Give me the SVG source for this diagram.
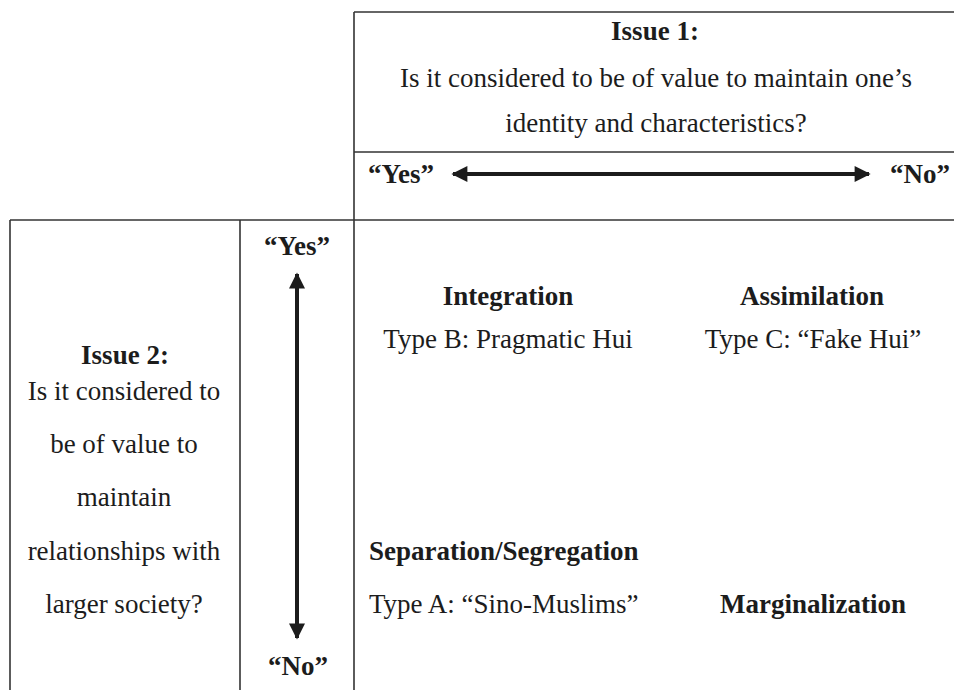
<svg xmlns="http://www.w3.org/2000/svg" width="954" height="690" viewBox="0 0 954 690">
  <style>
    .t { font-family: "Liberation Serif", "Times New Roman", serif; font-size: 27px; fill: #1c1c1c; }
    .b { font-weight: bold; }
    .c { text-anchor: middle; }
    .frame { stroke: #333; stroke-width: 1.6; fill: none; }
    .arr { stroke: #1c1c1c; stroke-width: 4; fill: none; }
  </style>
  <defs>
    <marker id="head" viewBox="0 0 10 10" refX="9" refY="5" markerWidth="5" markerHeight="4" orient="auto-start-reverse" markerUnits="strokeWidth">
      <path d="M0,0 L10,5 L0,10 Z" fill="#1c1c1c"/>
    </marker>
  </defs>
  <rect width="954" height="690" fill="#ffffff"/>

  <g id="frame">
    <line class="frame" x1="354" y1="12" x2="954" y2="12"/>
    <line class="frame" x1="354" y1="12" x2="354" y2="690"/>
    <line class="frame" x1="354" y1="152" x2="954" y2="152"/>
    <line class="frame" x1="10" y1="220" x2="954" y2="220"/>
    <line class="frame" x1="10" y1="220" x2="10" y2="690"/>
    <line class="frame" x1="240" y1="220" x2="240" y2="690"/>
  </g>

  <g id="issue1">
    <text class="t b c" x="655" y="40">Issue 1:</text>
    <text class="t c" x="656" y="87">Is it considered to be of value to maintain one’s</text>
    <text class="t c" x="656" y="132">identity and characteristics?</text>
  </g>

  <g id="axis1-labels">
    <text class="t b" x="368" y="183">“Yes”</text>
    <text class="t b" x="950" y="183" text-anchor="end">“No”</text>
  </g>

  <g id="issue2">
    <text class="t b c" x="125" y="364">Issue 2:</text>
    <text class="t c" x="124" y="400">Is it considered to</text>
    <text class="t c" x="124" y="453">be of value to</text>
    <text class="t c" x="124" y="506">maintain</text>
    <text class="t c" x="124" y="560">relationships with</text>
    <text class="t c" x="124" y="613">larger society?</text>
  </g>

  <g id="axis2-labels">
    <text class="t b c" x="297" y="255">“Yes”</text>
    <text class="t b c" x="298" y="675">“No”</text>
  </g>

  <g id="integration">
    <text class="t b c" x="508" y="305">Integration</text>
    <text class="t c" x="508" y="348">Type B: Pragmatic Hui</text>
  </g>
  <g id="assimilation">
    <text class="t b c" x="812" y="305">Assimilation</text>
    <text class="t c" x="813" y="348">Type C: “Fake Hui”</text>
  </g>
  <g id="separation">
    <text class="t b" x="369" y="560">Separation/Segregation</text>
    <text class="t" x="369" y="613">Type A: “Sino-Muslims”</text>
  </g>
  <g id="marginalization">
    <text class="t b c" x="813" y="613">Marginalization</text>
  </g>

  <g id="connectors">
    <line class="arr" x1="453" y1="174" x2="869" y2="174" marker-start="url(#head)" marker-end="url(#head)"/>
    <line class="arr" x1="297" y1="274" x2="297" y2="638" marker-start="url(#head)" marker-end="url(#head)"/>
  </g>
</svg>
